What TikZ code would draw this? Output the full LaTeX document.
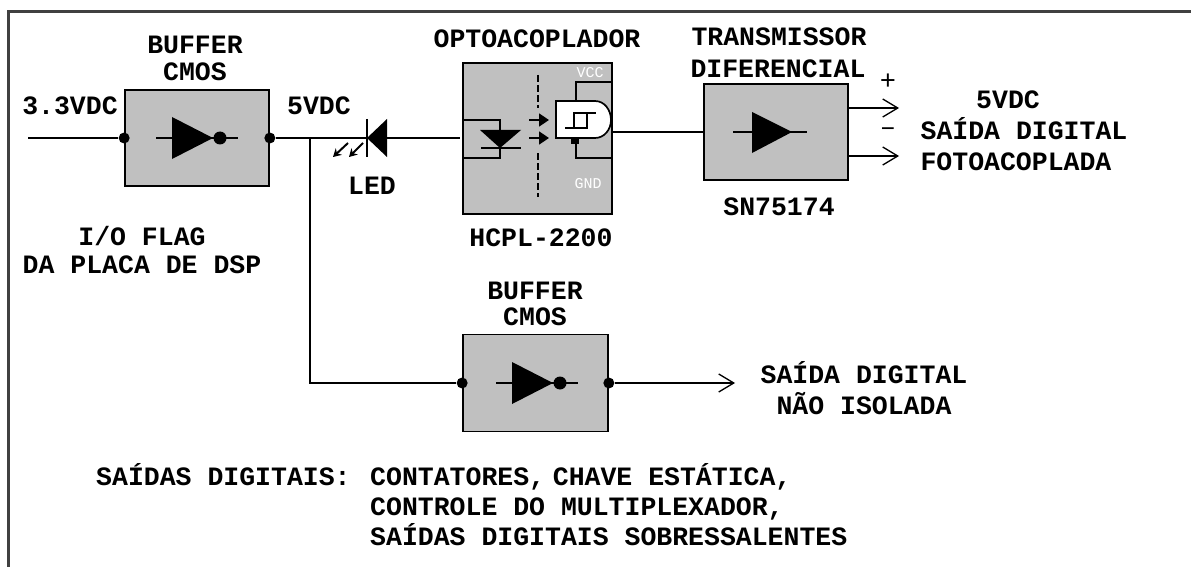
\documentclass[tikz,border=0pt]{standalone}
\usepackage{fontspec}
\setmainfont{Liberation Mono}[BoldFont={Liberation Mono Bold}]
\usetikzlibrary{arrows.meta,calc}
\definecolor{boxgray}{RGB}{192,192,192}
\tikzset{
  wire/.style={line width=1.7pt},
  block/.style={draw, fill=boxgray, line width=1.7pt, inner sep=0pt},
  lbl/.style={font=\bfseries\fontsize{26.5}{26.5}\selectfont, inner sep=0pt, align=center},
  sign/.style={font=\fontsize{27}{27}\selectfont, inner sep=0pt},
  tiny/.style={font=\fontsize{15}{15}\selectfont, text=white, inner sep=0pt},
  pin/.style={circle, fill=black, inner sep=0pt, minimum size=11pt},
  bubble/.style={circle, fill=black, inner sep=0pt, minimum size=13pt},
  outwire/.style={wire, -{Straight Barb[length=15pt,width=18pt,line width=1.3pt]}},
  lightarrow/.style={line width=2pt, -{Stealth[length=8pt,width=9pt]}},
  darrow/.style={line width=1.7pt, -{Triangle[length=10pt,width=13pt]}}
}
\begin{document}
\begin{tikzpicture}[x=1pt, y=-1pt]
\useasboundingbox (0,0) rectangle (1191,567);
% frame
\draw[line width=2.5pt, color=black!75] (8.5,567) -- (8.5,11.5) -- (1191,11.5);

% blocks
\node[block, minimum width=144pt, minimum height=96pt] (buf1) at (197,138) {};
\node[block, minimum width=149pt, minimum height=151pt] (opto) at (537.5,138.5) {};
\node[block, minimum width=144pt, minimum height=96pt] (drv) at (776,132) {};
\node[block, minimum width=145pt, minimum height=97pt] (buf2) at (535.5,383) {};

% first buffer
\node[pin] (p1) at (buf1.west) {};
\node[pin] (p2) at (buf1.east) {};
\coordinate (in) at (28,138);
\coordinate (j1) at (310,138);
\draw[wire] (in) -- (p1);
\draw[wire] (156,138) -- (238,138);
\fill (172,117) -- (213,138) -- (172,159) -- cycle;
\node[bubble] (inv1) at (220,138) {};

% led
\coordinate (ledk) at (387,138);
\coordinate (leda) at (367,138);
\coordinate (optoin) at (460,138);
\draw[wire] (p2) -- (leda);
\draw[wire] (ledk) -- (optoin);
\fill (367,138) -- (387,119) -- (387,157) -- cycle;
\draw[wire] (367,119) -- (367,157);
\draw[lightarrow] (348,143) -- (333,157);
\draw[lightarrow] (363,143) -- (349,157);

% optocoupler inside
\draw[wire] (opto.west |- 0,120) -- (500,120) -- (500,158) -- (opto.west |- 0,158);
\fill (480,130) -- (521,130) -- (500,148) -- cycle;
\draw[wire] (481,148) -- (521,148);
\draw[wire, dashed, dash pattern=on 7pt off 3pt] (538,75) -- (538,108);
\draw[wire, dashed, dash pattern=on 7pt off 3pt] (538,153) -- (538,197);
\draw[darrow] (529,120) -- (549,120);
\draw[darrow] (529,138) -- (549,138);
\draw[wire] (576,101) -- (576,82) -- (612,82);
\draw[wire] (576,138) -- (576,158) -- (612,158);
\fill (571,138) rectangle (579,144);
\draw[wire, fill=white] (556,138) -- (556,101) -- (595,101) to[out=0, in=90] (611,120) to[out=-90, in=0] (595,138) -- cycle;
\draw[wire] (565,128) -- (587,128) -- (587,113) -- (574,113) -- (574,128);
\draw[wire] (587,113) -- (596,113);
\node[tiny] (vcc) at (590,73) {VCC};
\node[tiny] (gnd) at (588,184) {GND};

% transmitter
\coordinate (gout) at (611,132);
\draw[wire] (gout) -- (drv.west);
\draw[wire] (733,132) -- (807,132);
\fill (752,112) -- (792,132) -- (752,153) -- cycle;
\coordinate (op) at (899,108);
\coordinate (om) at (899,156);
\draw[outwire] (drv.east |- op) -- (op);
\draw[outwire] (drv.east |- om) -- (om);

% second buffer
\node[pin] (p3) at (buf2.west) {};
\node[pin] (p4) at (buf2.east) {};
\coordinate (o2) at (735,383);
\draw[wire] (j1) -- (j1 |- p3) -- (p3);
\draw[outwire] (p4) -- (o2);
\draw[wire] (496,383) -- (578,383);
\fill (512,362) -- (553,383) -- (512,404) -- cycle;
\node[bubble] (inv2) at (560,383) {};

% labels
\node[lbl] (t1) at (195,58.5) {BUFFER\\CMOS};
\node[lbl] (t2) at (70,106) {3.3VDC};
\node[lbl] (t3) at (319,106) {5VDC};
\node[lbl] (t4) at (372,186) {LED};
\node[lbl] (t5) at (142,250) {I/O FLAG\\[2pt]DA PLACA DE DSP};
\node[lbl] (t6) at (537,39) {OPTOACOPLADOR};
\node[lbl] (t7) at (541,238) {HCPL-2200};
\node[lbl] (t8) at (779,37) {TRANSMISSOR};
\node[lbl] (t9) at (778,69) {DIFERENCIAL};
\node[lbl] (t10) at (779,207) {SN75174};
\node[sign] (t11) at (888,82) {+};
\node[sign] (t12) at (888,132) {–};
\node[lbl] (t13) at (1008,100) {5VDC};
\node[lbl] (t14) at (1024,129) {SAÍDA DIGITAL};
\node[lbl] (t15) at (1016,162) {FOTOACOPLADA};
\node[lbl] (t16) at (535,304) {BUFFER\\CMOS};
\node[lbl] (t17) at (864,388) {SAÍDA DIGITAL\\[4pt]NÃO ISOLADA};
\node[lbl, anchor=base west] (t18) at (96,485) {SAÍDAS DIGITAIS:};
\node[lbl, anchor=base west] (t19) at (370,485) {CONTATORES,{\fontsize{13}{13}\selectfont\ }CHAVE ESTÁTICA,};
\node[lbl, anchor=base west] (t20) at (370,515) {CONTROLE DO MULTIPLEXADOR,};
\node[lbl, anchor=base west] (t21) at (370,545) {SAÍDAS DIGITAIS SOBRESSALENTES};
\end{tikzpicture}
\end{document}
